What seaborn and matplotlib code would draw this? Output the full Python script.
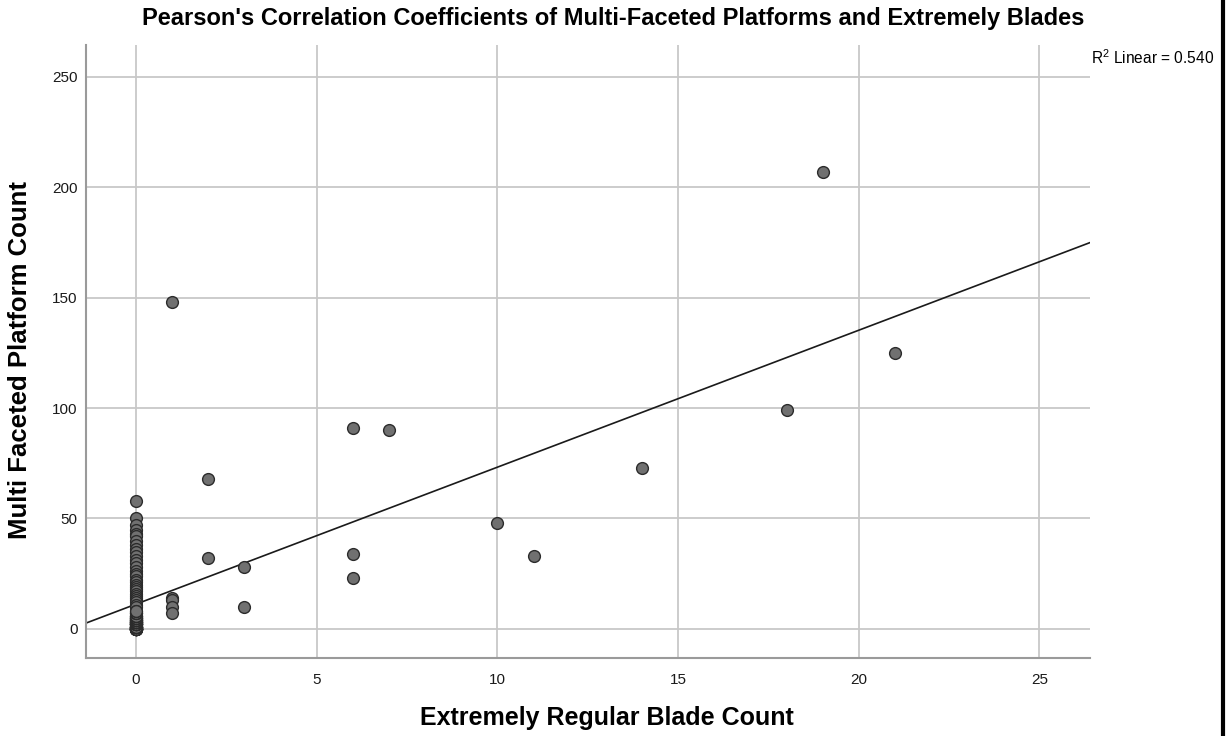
import matplotlib
matplotlib.use("Agg")
import matplotlib.pyplot as plt
from matplotlib.lines import Line2D
import seaborn as sns
import pandas as pd

# values
# points stacked at x = 0 (blade count zero)
zero_blade_platforms = [58, 50, 47, 45, 43, 42, 40, 38, 36, 35, 33, 31, 30, 28, 26,
                        25, 24, 22, 21, 20, 19, 18, 17, 16, 15, 14, 13, 12, 11, 10,
                        0, 0, 0, 0, 0, 0, 0, 0, 0, 0, 0, 0, 0, 0, 0, 0, 0, 0, 0, 0,
                        1, 1, 1, 1, 1, 1, 1, 1, 1, 1, 1, 1,
                        2, 2, 2, 2, 2, 2, 2, 2, 2, 2,
                        3, 3, 3, 3, 3, 3, 3, 3,
                        4, 4, 4, 4, 4, 4,
                        5, 5, 5, 5, 5,
                        6, 6, 6, 6,
                        7, 7, 7,
                        8, 8]
# the rest of the points
blade_counts = [1, 1, 1, 1, 1, 2, 2, 3, 3, 6, 6, 6, 7, 10, 11, 14, 18, 19, 21]
platform_counts = [148, 14, 13, 10, 7, 68, 32, 28, 10, 91, 34, 23, 90, 48, 33, 73, 99, 207, 125]

x_ticks = [0, 5, 10, 15, 20, 25]
y_ticks = [0, 50, 100, 150, 200, 250]
r2_label = "R$^2$ Linear = 0.540"

df = pd.DataFrame({
    "blades": [0] * len(zero_blade_platforms) + blade_counts,
    "platforms": zero_blade_platforms + platform_counts,
})

sns.set_style("whitegrid")
plt.rcParams["font.family"] = ["Liberation Sans", "DejaVu Sans"]
plt.rcParams["mathtext.fontset"] = "custom"
plt.rcParams["mathtext.rm"] = "Liberation Sans"

fig = plt.figure(figsize=(12.27, 7.36), dpi=100)
ax = fig.add_axes([0.0701, 0.106, 0.8183, 0.8329])

# set the range first so the fit line runs across the whole plot
ax.set_xlim(-1.385, 26.4)
ax.set_ylim(-13.2, 264.5)

sns.regplot(data=df, x="blades", y="platforms", ax=ax, ci=None, truncate=False,
            scatter_kws={"s": 72, "color": "#707070", "edgecolors": "#2b2b2b",
                         "linewidths": 1.0, "alpha": 1, "zorder": 3},
            line_kws={"color": "#1a1a1a", "linewidth": 1.2, "zorder": 2})

ax.set_xlim(-1.385, 26.4)
ax.set_ylim(-13.2, 264.5)
ax.set_xticks(x_ticks)
ax.set_yticks(y_ticks)
ax.tick_params(axis="both", length=0, labelsize=11, colors="#1a1a1a")
ax.tick_params(axis="x", pad=11)
ax.tick_params(axis="y", pad=6)
ax.grid(True, color="#c8c8c8", linewidth=1.3)
ax.set_axisbelow(True)
ax.set_xlabel("")
ax.set_ylabel("")

for side in ["top", "right"]:
    ax.spines[side].set_visible(False)
for side in ["left", "bottom"]:
    ax.spines[side].set_color("#9a9a9a")
    ax.spines[side].set_linewidth(1.5)

fig.text(0.5, 0.975, "Pearson's Correlation Coefficients of Multi-Faceted Platforms and Extremely Blades",
         ha="center", va="center", fontsize=17, fontweight="bold", color="black")
fig.text(0.4947, 0.025, "Extremely Regular Blade Count", ha="center", va="center",
         fontsize=18, fontweight="bold", color="black")
fig.text(0.0165, 0.511, "Multi Faceted Platform Count", ha="center", va="center",
         rotation=90, fontsize=18.5, fontweight="bold", color="black")
fig.text(0.8893, 0.921, r2_label, ha="left", va="center", fontsize=11.2, color="black")

# black frame edge on the right side of the screenshot
fig.add_artist(Line2D([0.9967, 0.9967], [0, 1], transform=fig.transFigure,
                      color="black", linewidth=3))

fig.savefig("out.png", dpi=100)
